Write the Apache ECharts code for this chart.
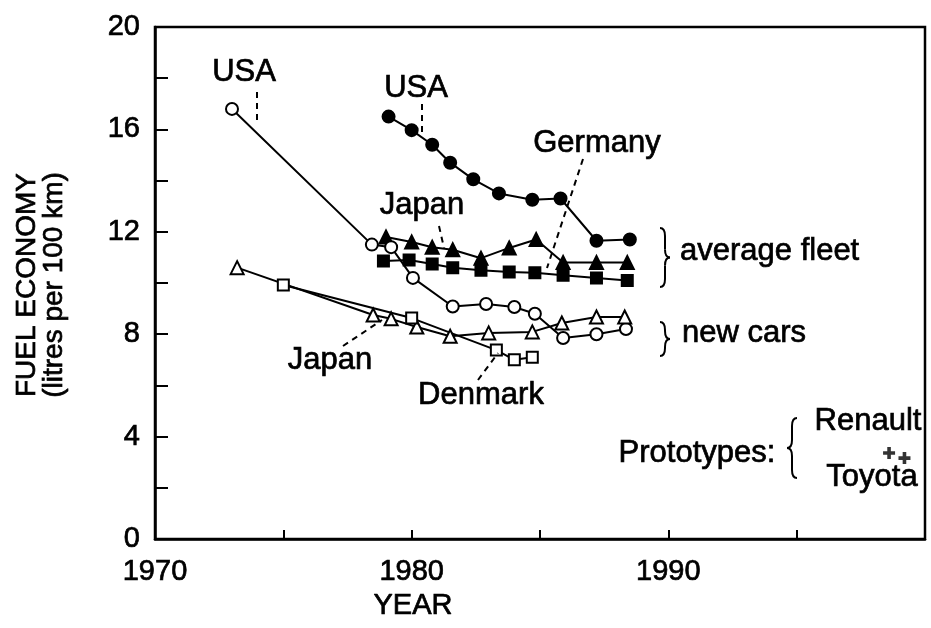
<!DOCTYPE html>
<html>
<head>
<meta charset="utf-8">
<script src="https://cdn.jsdelivr.net/npm/echarts@6/dist/echarts.min.js"></script>
<style>html,body{margin:0;padding:0;background:#fff}#c{width:931px;height:628px}</style>
</head>
<body>
<div id="c"></div>
<script>
// ---- data ----
var usaFleetYears = [1979.1, 1980.0, 1980.8, 1981.5, 1982.4, 1983.4, 1984.7, 1985.8, 1987.2, 1988.5];
var usaFleet      = [16.5, 15.97, 15.4, 14.7, 14.05, 13.5, 13.25, 13.3, 11.65, 11.7];

var japanFleetYears = [1979.0, 1980.0, 1980.8, 1981.6, 1982.7, 1983.8, 1984.85, 1985.9, 1987.2, 1988.4];
var japanFleet      = [11.8, 11.6, 11.4, 11.3, 10.97, 11.37, 11.7, 10.8, 10.8, 10.8];

var germanyFleetYears = [1978.9, 1979.9, 1980.8, 1981.6, 1982.7, 1983.8, 1984.8, 1985.9, 1987.2, 1988.4];
var germanyFleet      = [10.86, 10.9, 10.74, 10.6, 10.5, 10.43, 10.4, 10.3, 10.2, 10.1];

var usaNewYears = [1973.0, 1978.45, 1979.2, 1980.05, 1981.6, 1982.9, 1984.0, 1984.8, 1985.9, 1987.2, 1988.35];
var usaNew      = [16.8, 11.5, 11.4, 10.2, 9.08, 9.18, 9.06, 8.8, 7.85, 8.0, 8.2];

var japanNewYears = [1973.2, 1978.5, 1979.2, 1980.2, 1981.5, 1983.0, 1984.7, 1985.85, 1987.2, 1988.3];
var japanNew      = [10.6, 8.75, 8.6, 8.28, 7.92, 8.05, 8.09, 8.44, 8.67, 8.67];

var denmarkNewYears = [1975.0, 1980.0, 1983.3, 1984.0, 1984.7];
var denmarkNew      = [9.92, 8.63, 7.38, 7.0, 7.1];

var protoNames  = ['Renault', 'Toyota'];
var protoYears  = [1998.6, 1999.2];
var protoValues = [3.36, 3.16];

var xTickLabels = [1970, 1980, 1990];
var yTickLabels = [0, 4, 8, 12, 16, 20];

// ---- chart ----
function pairs(xs, ys) { return xs.map(function (x, i) { return [x, ys[i]]; }); }
var FONT = '"Liberation Sans", Arial, Helvetica, sans-serif';
var INK = '#000';
var THICK = 0.7; // slight stroke to mimic the heavy photocopied lettering

function lineSeries(name, xs, ys, symbol, size) {
  return {
    name: name, type: 'line', data: pairs(xs, ys),
    symbol: symbol, symbolSize: size, showSymbol: true,
    lineStyle: { color: INK, width: 2 },
    itemStyle: { color: INK, borderColor: INK, borderWidth: 2 },
    animation: false, z: 3
  };
}

var plusPath = 'path://M3.5,0 L6.5,0 L6.5,3.5 L10,3.5 L10,6.5 L6.5,6.5 L6.5,10 L3.5,10 L3.5,6.5 L0,6.5 L0,3.5 L3.5,3.5 Z';

var braceStyle = { stroke: INK, lineWidth: 2, fill: null };
function brace(x, y0, y1, w, dir) {
  // dir = 1 : "}" pointing right ; dir = -1 : "{" pointing left
  var ym = (y0 + y1) / 2, r = Math.min(8, (y1 - y0) / 4);
  var xm = x + w / 2 * dir, xt = x + w * dir;
  function q(x1, y1, cx, cy, x2, y2) {
    return { type: 'bezierCurve', z: 9, shape: { x1: x1, y1: y1, cpx1: cx, cpy1: cy, x2: x2, y2: y2 }, style: braceStyle };
  }
  function l(x1, y1, x2, y2) {
    return { type: 'line', z: 9, shape: { x1: x1, y1: y1, x2: x2, y2: y2 }, style: braceStyle };
  }
  return [
    q(x, y0, xm, y0, xm, y0 + r),
    l(xm, y0 + r, xm, ym - r),
    q(xm, ym - r, xm, ym, xt, ym),
    q(xt, ym, xm, ym, xm, ym + r),
    l(xm, ym + r, xm, y1 - r),
    q(xm, y1 - r, xm, y1, x, y1)
  ];
}

function txt(s, x, y, align, size) {
  return { type: 'text', x: x, y: y, z: 10,
    style: { text: s, font: (size || 31) + 'px ' + FONT, fill: INK,
      stroke: INK, lineWidth: THICK,
      textAlign: align || 'center', textVerticalAlign: 'middle' } };
}
function dash(x1, y1, x2, y2) {
  return { type: 'line', z: 9, shape: { x1: x1, y1: y1, x2: x2, y2: y2 },
    style: { stroke: INK, lineWidth: 2, lineDash: [6, 5] } };
}

var graphics = [
  txt('USA', 244, 72),
  dash(257, 92, 257, 125),
  txt('USA', 416, 88),
  dash(422, 104, 422, 133),
  txt('Germany', 597, 143),
  dash(583, 159, 547, 268),
  txt('Japan', 422, 205),
  dash(439, 226, 444, 248),
  txt('Japan', 330, 360),
  dash(343, 346, 382, 320),
  txt('Denmark', 481, 395),
  dash(478, 380, 498, 353),
  txt('average fleet', 680, 251, 'left'),
  txt('new cars', 682, 333, 'left'),
  txt('Prototypes:', 697, 453),
  txt('Renault', 868, 421),
  txt('Toyota', 872, 477),
  txt('YEAR', 413, 606, 'center', 29),
  { type: 'text', z: 10, x: 41, y: 285, rotation: Math.PI / 2,
    style: { text: 'FUEL ECONOMY\n(litres per 100 km)', font: '28px ' + FONT, fill: INK,
      stroke: INK, lineWidth: THICK,
      textAlign: 'center', textVerticalAlign: 'middle', lineHeight: 27 } }
].concat(brace(660, 228, 287, 10, 1), brace(660, 322, 356, 10, 1), brace(797, 418, 478, 10, -1));

var chart = echarts.init(document.getElementById('c'), null, { renderer: 'canvas' });
chart.setOption({
  backgroundColor: '#fff',
  animation: false,
  grid: { left: 155, right: 6, top: 27, bottom: 89, show: true, borderColor: INK, borderWidth: 2.5, backgroundColor: 'transparent' },
  xAxis: {
    type: 'value', min: 1970, max: 2000, interval: 5,
    axisLine: { show: true, lineStyle: { color: INK, width: 2.5 } },
    axisTick: { show: true, inside: true, length: 9, lineStyle: { color: INK, width: 2 } },
    splitLine: { show: false },
    axisLabel: {
      color: INK, fontSize: 29, fontFamily: FONT, margin: 18,
      textBorderColor: INK, textBorderWidth: THICK,
      formatter: function (v) { return xTickLabels.indexOf(v) >= 0 ? String(v) : ''; },
      showMaxLabel: false
    }
  },
  yAxis: {
    type: 'value', min: 0, max: 20, interval: 2,
    axisLine: { show: true, lineStyle: { color: INK, width: 2.5 } },
    axisTick: { show: true, inside: true, length: 13, lineStyle: { color: INK, width: 2 } },
    splitLine: { show: false },
    axisLabel: {
      color: INK, fontSize: 29, fontFamily: FONT, margin: 15,
      textBorderColor: INK, textBorderWidth: THICK,
      formatter: function (v) { return yTickLabels.indexOf(v) >= 0 ? String(v) : ''; }
    }
  },
  series: [
    lineSeries('USA average fleet', usaFleetYears, usaFleet, 'circle', 12),
    lineSeries('Japan average fleet', japanFleetYears, japanFleet, 'triangle', 13),
    lineSeries('Germany average fleet', germanyFleetYears, germanyFleet, 'rect', 11),
    lineSeries('USA new cars', usaNewYears, usaNew, 'emptyCircle', 12),
    lineSeries('Japan new cars', japanNewYears, japanNew, 'emptyTriangle', 13),
    lineSeries('Denmark new cars', denmarkNewYears, denmarkNew, 'emptyRect', 11),
    {
      name: 'Prototypes', type: 'scatter',
      data: protoYears.map(function (x, i) { return { name: protoNames[i], value: [x, protoValues[i]] }; }),
      symbol: plusPath, symbolSize: 12, itemStyle: { color: INK }, z: 4
    }
  ],
  graphic: graphics
});
</script>
</body>
</html>
